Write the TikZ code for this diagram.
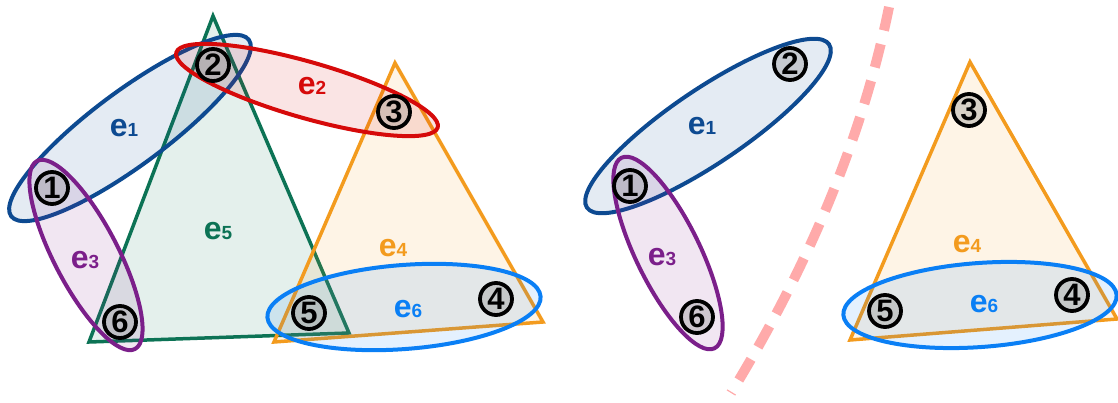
\documentclass[tikz,border=0pt]{standalone}
\usepackage{fontspec}
\setmainfont{Liberation Sans}
\definecolor{cone}{HTML}{0D4A91}
\definecolor{ctwo}{HTML}{D60A0A}
\definecolor{cthree}{HTML}{7B1F8A}
\definecolor{cfour}{HTML}{F39B1E}
\definecolor{cfive}{HTML}{0C7355}
\definecolor{csix}{HTML}{0A7FF5}
\definecolor{cdash}{HTML}{FFAAAA}
\newcommand{\elab}[1]{e{\fontsize{19}{19}\selectfont #1}}
\tikzset{
  hedge/.style={draw=#1, fill=#1, fill opacity=0.11, line width=4pt},
  tri/.style={draw=#1, fill=#1, fill opacity=0.11, line width=3.5pt, line join=miter},
  vert/.style={circle, draw=black, line width=3.8pt, fill=gray, fill opacity=0.3,
    text opacity=1, minimum size=32pt, inner sep=0pt,
    font=\fontsize{31}{31}\selectfont\bfseries},
  elabel/.style={text=#1, inner sep=0pt, font=\fontsize{32}{32}\selectfont\bfseries}
}
\begin{document}
\begin{tikzpicture}[x=1pt,y=-1pt]
\useasboundingbox (0,0) rectangle (1118,403);

% left: all six hyperedges
\coordinate (ga) at (213,16);
\coordinate (gb) at (89,342);
\coordinate (gc) at (349,333);
\draw[tri=cfive] (ga) -- (gb) -- (gc) -- cycle;
\coordinate (oa) at (395,63);
\coordinate (ob) at (274,342);
\coordinate (oc) at (543,322);
\draw[tri=cfour] (oa) -- (ob) -- (oc) -- cycle;

\draw[hedge=cone, rotate around={36.6:(130,128)}] (130,128) ellipse [x radius=148pt, y radius=37pt];
\draw[hedge=ctwo, rotate around={-16:(307,90)}] (307,90) ellipse [x radius=136pt, y radius=28pt];
\draw[hedge=cthree, rotate around={-62.5:(86,255)}] (86,255) ellipse [x radius=106pt, y radius=32pt];
\draw[hedge=csix, rotate around={4.4:(404,307)}] (404,307) ellipse [x radius=137pt, y radius=42pt];

\node[vert] (v1) at (52,188) {1};
\node[vert] (v2) at (213,65) {2};
\node[vert] (v3) at (394,112) {3};
\node[vert] (v4) at (496,299) {4};
\node[vert] (v5) at (309,313) {5};
\node[vert] (v6) at (120,322) {6};

\node[elabel=cone] (l1) at (124,128) {\elab{1}};
\node[elabel=ctwo] (l2) at (312,86) {\elab{2}};
\node[elabel=cthree] (l3) at (85,260) {\elab{3}};
\node[elabel=cfour] (l4) at (393,248) {\elab{4}};
\node[elabel=cfive] (l5) at (218,231) {\elab{5}};
\node[elabel=csix] (l6) at (408,309) {\elab{6}};

% cut
\draw[cdash, line width=10pt, dash pattern=on 24pt off 14pt]
  (889,7) .. controls (860,150) and (800,280) .. (731,393);

% right: the two parts
\draw[hedge=cone, rotate around={34:(708,126)}] (708,126) ellipse [x radius=146pt, y radius=37pt];
\draw[hedge=cthree, rotate around={-64:(668,253)}] (668,253) ellipse [x radius=106pt, y radius=32pt];

\coordinate (pa) at (970,62);
\coordinate (pb) at (850,340);
\coordinate (pc) at (1117,319);
\draw[tri=cfour] (pa) -- (pb) -- (pc) -- cycle;
\draw[hedge=csix, rotate around={4.2:(980,305)}] (980,305) ellipse [x radius=137pt, y radius=42pt];

\node[vert] (w1) at (630,186) {1};
\node[vert] (w2) at (790,64) {2};
\node[vert] (w3) at (969,110) {3};
\node[vert] (w4) at (1072,295) {4};
\node[vert] (w5) at (885,311) {5};
\node[vert] (w6) at (697,317) {6};

\node[elabel=cone] (m1) at (702,126) {\elab{1}};
\node[elabel=cthree] (m3) at (662,257) {\elab{3}};
\node[elabel=cfour] (m4) at (967,244) {\elab{4}};
\node[elabel=csix] (m6) at (984,304) {\elab{6}};
\end{tikzpicture}
\end{document}
